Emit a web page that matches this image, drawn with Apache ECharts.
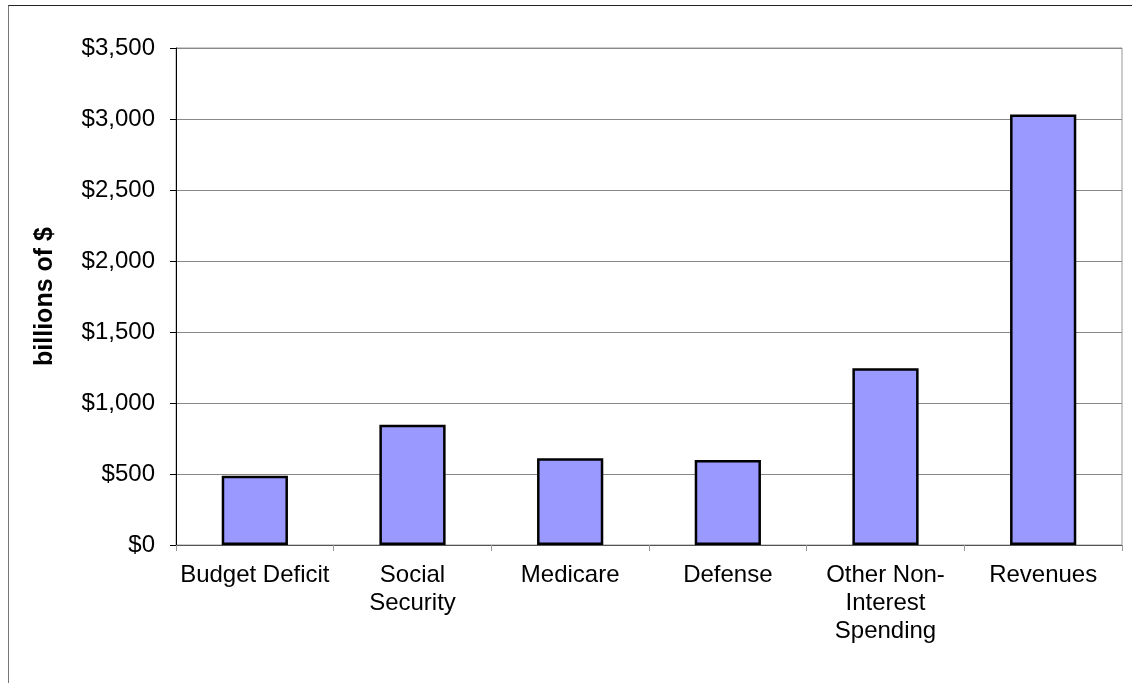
<!DOCTYPE html>
<html>
<head>
<meta charset="utf-8">
<script src="https://cdn.jsdelivr.net/npm/echarts@6/dist/echarts.min.js"></script>
<style>
  html, body { margin: 0; padding: 0; background: #fff; }
  #frame { position: absolute; left: 8px; top: 5px; width: 1130px; height: 690px;
           border-top: 1px solid #222; border-left: 1px solid #777; }
  #chart { position: absolute; left: 0; top: 0; width: 1132px; height: 683px; }
</style>
</head>
<body>
<div id="frame"></div>
<div id="chart"></div>
<script>
// spending categories and amounts, billions of dollars
const categories = [
  "Budget Deficit",
  "Social\nSecurity",
  "Medicare",
  "Defense",
  "Other Non-\nInterest\nSpending",
  "Revenues"
];
const amounts = [488, 846, 611, 599, 1244, 3032];
const yMax = 3500;
const yStep = 500;

const chart = echarts.init(document.getElementById("chart"));
chart.setOption({
  animation: false,
  grid: {
    left: 176,
    right: 10,
    top: 48,
    bottom: 138,
    show: true,
    borderColor: "#999",
    borderWidth: 1
  },
  xAxis: {
    type: "category",
    data: categories,
    axisLine: { lineStyle: { color: "#555", width: 1 } },
    axisTick: { show: true, length: 6, lineStyle: { color: "#999" } },
    axisLabel: {
      color: "#000",
      fontFamily: "Liberation Sans",
      fontSize: 24,
      lineHeight: 28,
      margin: 16,
      interval: 0
    }
  },
  yAxis: {
    type: "value",
    min: 0,
    max: yMax,
    interval: yStep,
    name: "billions of $",
    nameLocation: "middle",
    nameGap: 118,
    nameTextStyle: {
      color: "#000",
      fontFamily: "Liberation Sans",
      fontSize: 25,
      fontWeight: "bold"
    },
    axisLine: { show: true, lineStyle: { color: "#000", width: 1 } },
    axisTick: { show: true, length: 6, lineStyle: { color: "#000" } },
    axisLabel: {
      color: "#000",
      fontFamily: "Liberation Sans",
      fontSize: 24,
      margin: 21,
      formatter: v => "$" + v.toLocaleString("en-US")
    },
    splitLine: { lineStyle: { color: "#888", width: 1 } }
  },
  series: [
    {
      type: "bar",
      data: amounts,
      barWidth: "42%",
      itemStyle: {
        color: "#9999FF",
        borderColor: "#000",
        borderWidth: 2.5
      }
    }
  ]
});
</script>
</body>
</html>
